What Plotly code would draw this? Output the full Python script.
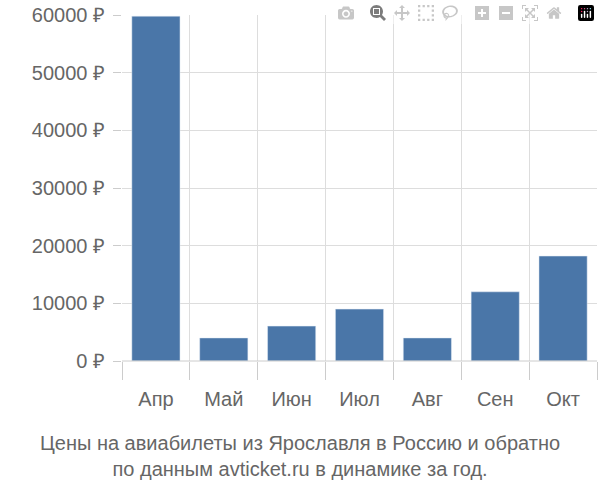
import plotly.graph_objects as go

months = ["Апр", "Май", "Июн", "Июл", "Авг", "Сен", "Окт"]
prices = [59800, 4000, 6050, 9000, 4000, 12000, 18200]
ytick_vals = [0, 10000, 20000, 30000, 40000, 50000, 60000]
ytick_text = [f"{v} ₽" for v in ytick_vals]

fig = go.Figure()
fig.add_trace(go.Bar(x=list(range(len(months))), y=prices, marker_color="#4a76a8",
                     width=0.71, xaxis="x", showlegend=False))
fig.add_trace(go.Scatter(x=list(range(len(months))), y=[None]*len(months), xaxis="x2",
                         showlegend=False, hoverinfo="skip"))

fig.update_layout(
    width=600, height=500, margin=dict(l=122, r=3, t=15, b=139),
    plot_bgcolor="white", paper_bgcolor="white",
    font=dict(family="Liberation Sans, Arial", size=20, color="#666"),
    xaxis=dict(range=[-0.5, 6.5], tickvals=[i - 0.5 for i in range(8)],
               ticktext=[""] * 8, showgrid=True, gridcolor="#ddd",
               ticks="outside", ticklen=18, tickcolor="#ccc", zeroline=False),
    xaxis2=dict(range=[-0.5, 6.5], overlaying="x", side="bottom",
                tickvals=list(range(7)), ticktext=months, showgrid=False,
                ticks="", zeroline=False, ticklabelstandoff=24),
    yaxis=dict(range=[0, 60000], tickvals=ytick_vals, ticktext=ytick_text,
               showgrid=True, gridcolor="#ddd", ticks="outside", ticklen=8,
               tickcolor="#ccc", zeroline=False, ticklabelstandoff=4),
    annotations=[dict(text="Цены на авиабилеты из Ярославля в Россию и обратно<br>по данным avticket.ru в динамике за год.",
                      xref="paper", yref="paper", x=0.375, y=-0.2, xanchor="center", yanchor="top",
                      showarrow=False, font=dict(size=20, color="#666"))],
)
fig.add_shape(type="line", xref="paper", yref="paper", x0=0, x1=1, y0=0, y1=0,
              line=dict(color="#ccc", width=1))
fig.write_html("out.html",
               post_script="document.body.style.margin='0';document.body.style.overflow='hidden';")
